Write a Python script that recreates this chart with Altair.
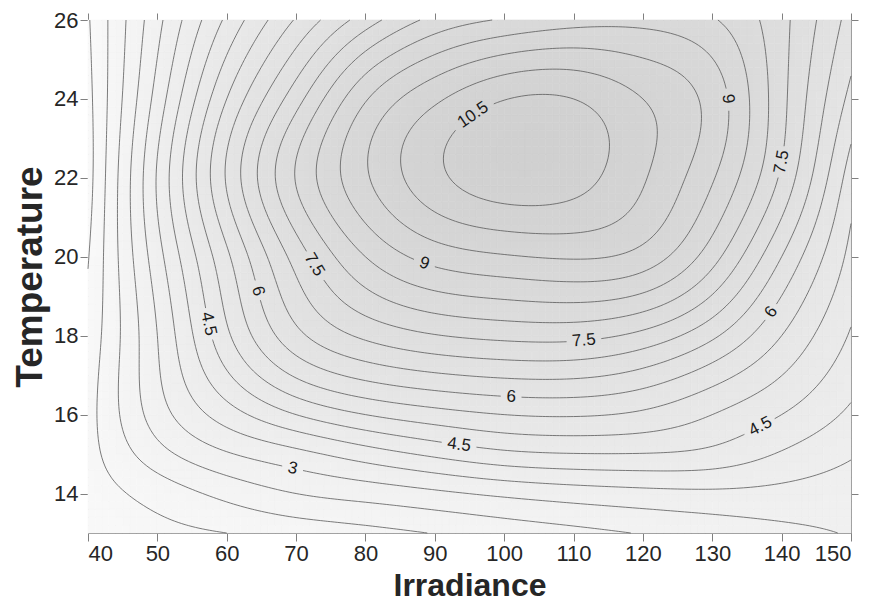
import numpy as np
import pandas as pd
import altair as alt

# ---- data -----------------------------------------------------------------
irradiance = [40, 50, 60, 70, 80, 90, 100, 110, 120, 130, 140, 150]
temperature = [13, 14, 15, 16, 18, 20, 22, 24, 26]
rate_t13 = [1.20, 1.36, 1.50, 1.67, 1.84, 2.02, 2.20, 2.36, 2.53, 2.70, 2.87, 3.03]
rate_t14 = [1.25, 1.70, 2.15, 2.50, 2.70, 2.90, 3.10, 3.25, 3.35, 3.40, 3.35, 3.25]
rate_t15 = [1.30, 2.30, 2.95, 3.35, 3.75, 4.10, 4.38, 4.48, 4.48, 4.35, 3.95, 3.55]
rate_t16 = [1.30, 2.75, 3.75, 4.50, 5.00, 5.30, 5.50, 5.55, 5.40, 5.00, 4.50, 3.90]
rate_t18 = [1.15, 3.00, 4.90, 6.35, 7.10, 7.47, 7.63, 7.65, 7.35, 6.60, 5.50, 4.45]
rate_t20 = [0.97, 3.30, 5.40, 7.20, 8.50, 9.20, 9.45, 9.55, 9.30, 8.20, 6.50, 4.85]
rate_t22 = [0.80, 3.55, 6.05, 8.03, 9.43, 10.36, 10.82, 10.70, 10.05, 9.05, 7.40, 5.25]
rate_t24 = [0.85, 3.20, 5.50, 7.30, 8.95, 9.90, 10.48, 10.50, 10.00, 9.30, 7.65, 5.85]
rate_t26 = [0.95, 2.85, 4.60, 6.05, 7.25, 8.15, 8.55, 8.80, 8.85, 8.55, 7.65, 6.30]

levels = [0.5, 1.0, 1.5, 2.0, 2.5, 3.0, 3.5, 4.0, 4.5, 5.0, 5.5, 6.0, 6.5,
          7.0, 7.5, 8.0, 8.5, 9.0, 9.5, 10.0, 10.5]

label_level = [10.5, 9, 9, 7.5, 7.5, 6, 4.5, 7.5, 6, 4.5, 3, 4.5, 6]
label_text = ["10.5", "9", "9", "7.5", "7.5", "6", "4.5", "7.5", "6", "4.5", "3", "4.5", "6"]
label_irr = [95.8, 88.0, 132.2, 140.1, 72.1, 64.2, 57.4, 111.5, 100.9, 93.3, 69.5, 136.5, 138.8]
label_temp = [23.47, 19.6, 24.0, 22.4, 19.7, 19.1, 18.3, 17.7, 16.4, 15.25, 14.65, 15.8, 18.55]

x_ticks = [40, 50, 60, 70, 80, 90, 100, 110, 120, 130, 140, 150]
y_ticks = [14, 16, 18, 20, 22, 24, 26]

W, H = 763, 513
I_MIN, I_MAX, T_MIN, T_MAX = 40.0, 150.0, 13.0, 26.0
LABEL_SIZE = 17


# ---- smooth surface through the read values (natural cubic splines) -------
def natural_spline(x, Y, xq):
    x = np.asarray(x, float)
    Y = np.asarray(Y, float)
    n = len(x)
    h = np.diff(x)
    A = np.zeros((n, n))
    R = np.zeros((n,) + Y.shape[1:])
    A[0, 0] = A[-1, -1] = 1.0
    for k in range(1, n - 1):
        A[k, k - 1] = h[k - 1]
        A[k, k] = 2 * (h[k - 1] + h[k])
        A[k, k + 1] = h[k]
        R[k] = 6 * ((Y[k + 1] - Y[k]) / h[k] - (Y[k] - Y[k - 1]) / h[k - 1])
    M = np.linalg.solve(A, R)
    xq = np.asarray(xq, float)
    k = np.clip(np.searchsorted(x, xq) - 1, 0, n - 2)
    hk = h[k][:, None]
    a = ((x[k + 1] - xq) / h[k])[:, None]
    b = ((xq - x[k]) / h[k])[:, None]
    return a * Y[k] + b * Y[k + 1] + ((a ** 3 - a) * M[k] + (b ** 3 - b) * M[k + 1]) * hk ** 2 / 6


grid = np.array([rate_t13, rate_t14, rate_t15, rate_t16, rate_t18,
                 rate_t20, rate_t22, rate_t24, rate_t26])


def surface(iq, tq):
    along_i = natural_spline(irradiance, grid.T, iq)        # (len iq, nT)
    return natural_spline(temperature, along_i.T, tq)        # (len tq, len iq)


fi = np.linspace(I_MIN, I_MAX, 221)
ft = np.linspace(T_MIN, T_MAX, 131)
Z = surface(fi, ft)


# ---- marching squares -------------------------------------------------------
def contour_paths(xs, ys, Z, L):
    above = Z >= L
    c0 = above[:-1, :-1]; c1 = above[:-1, 1:]; c2 = above[1:, 1:]; c3 = above[1:, :-1]
    mixed = ~((c0 == c1) & (c1 == c2) & (c2 == c3))
    js, iis = np.nonzero(mixed)
    adj, pts = {}, {}

    def edge_point(e):
        if e in pts:
            return
        kind, j, i = e
        if kind == 'h':
            z0, z1 = Z[j, i], Z[j, i + 1]
            t = (L - z0) / (z1 - z0)
            pts[e] = (xs[i] + t * (xs[i + 1] - xs[i]), ys[j])
        else:
            z0, z1 = Z[j, i], Z[j + 1, i]
            t = (L - z0) / (z1 - z0)
            pts[e] = (xs[i], ys[j] + t * (ys[j + 1] - ys[j]))

    def link(a, b):
        edge_point(a); edge_point(b)
        adj.setdefault(a, []).append(b)
        adj.setdefault(b, []).append(a)

    for j, i in zip(js, iis):
        s = [above[j, i], above[j, i + 1], above[j + 1, i + 1], above[j + 1, i]]
        edges = [('h', j, i), ('v', j, i + 1), ('h', j + 1, i), ('v', j, i)]
        cross = [k for k in range(4) if s[k] != s[(k + 1) % 4]]
        if len(cross) == 2:
            link(edges[cross[0]], edges[cross[1]])
        elif len(cross) == 4:
            center = (Z[j, i] + Z[j, i + 1] + Z[j + 1, i + 1] + Z[j + 1, i]) / 4 >= L
            if center == s[0]:
                link(edges[0], edges[1]); link(edges[2], edges[3])
            else:
                link(edges[3], edges[0]); link(edges[1], edges[2])

    visited, paths = set(), []

    def walk(start):
        path = [start]
        visited.add(start)
        cur = start
        while True:
            nxt = [n for n in adj[cur] if n not in visited]
            if not nxt:
                if len(path) > 2 and start in adj[cur]:
                    path.append(start)
                break
            cur = nxt[0]
            visited.add(cur)
            path.append(cur)
        return [pts[e] for e in path]

    for e, nb in adj.items():
        if len(nb) == 1 and e not in visited:
            paths.append(walk(e))
    for e in adj:
        if e not in visited:
            paths.append(walk(e))
    return paths


def to_px(i, t):
    return (i - I_MIN) / (I_MAX - I_MIN) * W, (T_MAX - t) / (T_MAX - T_MIN) * H


line_rows, text_rows = [], []
pid = 0
for L in levels:
    paths = [np.array(p) for p in contour_paths(fi, ft, Z, L)]
    if not paths:
        continue
    pix = [np.column_stack(to_px(p[:, 0], p[:, 1])) for p in paths]
    gaps = []
    for lv, txt, ai, at in zip(label_level, label_text, label_irr, label_temp):
        if abs(lv - L) > 1e-9:
            continue
        ax, ay = to_px(ai, at)
        best = None
        for pi, pp in enumerate(pix):
            d = np.hypot(pp[:, 0] - ax, pp[:, 1] - ay)
            k = int(np.argmin(d))
            if best is None or d[k] < best[0]:
                best = (d[k], pi, k)
        _, pi, k = best
        pp = pix[pi]
        k0, k1 = max(0, k - 3), min(len(pp) - 1, k + 3)
        dx, dy = pp[k1, 0] - pp[k0, 0], pp[k1, 1] - pp[k0, 1]
        ang = np.degrees(np.arctan2(dy, dx))
        if ang > 90:
            ang -= 180
        if ang <= -90:
            ang += 180
        text_rows.append({"I": paths[pi][k, 0], "T": paths[pi][k, 1],
                          "txt": txt, "angle": ang % 360})
        half = (sum(0.28 if c == '.' else 0.556 for c in txt) * LABEL_SIZE) / 2 + 3.5
        gaps.append((pp[k, 0], pp[k, 1], half))
    for p, pp in zip(paths, pix):
        keep = np.ones(len(p), bool)
        for gx, gy, r in gaps:
            keep &= np.hypot(pp[:, 0] - gx, pp[:, 1] - gy) > r
        seg = []
        for idx in range(len(p)):
            if keep[idx]:
                seg.append(idx)
            else:
                if len(seg) > 1:
                    for o, q in enumerate(seg):
                        line_rows.append({"I": p[q, 0], "T": p[q, 1], "pid": pid, "ord": o})
                    pid += 1
                seg = []
        if len(seg) > 1:
            for o, q in enumerate(seg):
                line_rows.append({"I": p[q, 0], "T": p[q, 1], "pid": pid, "ord": o})
            pid += 1

lines_df = pd.DataFrame(line_rows)
text_df = pd.DataFrame(text_rows)

# shading cells
ci = np.arange(40.5, 150.0, 1.0)
ct = np.arange(13.1, 26.0, 0.2)
Zc = surface(ci, ct)
shade_rows = []
for a, t in enumerate(ct):
    for b, i in enumerate(ci):
        shade_rows.append({"i0": i - 0.5, "i1": i + 0.5, "t0": t - 0.1, "t1": t + 0.1,
                           "z": float(Zc[a, b])})
shade_df = pd.DataFrame(shade_rows)

# ---- chart ------------------------------------------------------------------
LABEL_FONT = "Liberation Sans Narrow, Arial Narrow, Liberation Sans, sans-serif"
xscale = alt.Scale(domain=[I_MIN, I_MAX], nice=False, zero=False)
yscale = alt.Scale(domain=[T_MIN, T_MAX], nice=False, zero=False)
common_axis = dict(grid=False, domain=False, tickSize=8, tickColor="#808080",
                   tickWidth=1, labelFont=LABEL_FONT, labelFontSize=22,
                   labelColor="#262626", labelPadding=2, titleFont=LABEL_FONT,
                   titleFontWeight="bold", titleColor="#262626")

shade_scale = alt.Scale(domain=[0, 11], range=["#fdfdfd", "#d0d0d0"])
shade = alt.Chart(shade_df).mark_rect(strokeWidth=0.6).encode(
    x=alt.X("i0:Q", scale=xscale,
            axis=alt.Axis(orient="bottom", values=x_ticks, title="Irradiance",
                          titleFontSize=32, titlePadding=6, **common_axis)),
    x2="i1:Q",
    y=alt.Y("t0:Q", scale=yscale,
            axis=alt.Axis(orient="left", values=y_ticks, title="Temperature",
                          titleFontSize=37, titlePadding=4, **common_axis)),
    y2="t1:Q",
    color=alt.Color("z:Q", scale=shade_scale, legend=None),
    stroke=alt.Stroke("z:Q", scale=shade_scale, legend=None),
)

lines = alt.Chart(lines_df).mark_line(color="#5a5a5a", strokeWidth=0.8).encode(
    x=alt.X("I:Q", scale=xscale, axis=None),
    y=alt.Y("T:Q", scale=yscale, axis=None),
    detail="pid:N",
    order="ord:Q",
)

labels = alt.Chart(text_df).mark_text(font="Liberation Sans, Arial, sans-serif",
                                       fontSize=LABEL_SIZE, color="#1a1a1a",
                                       align="center", baseline="middle").encode(
    x=alt.X("I:Q", scale=xscale, axis=None),
    y=alt.Y("T:Q", scale=yscale, axis=None),
    text="txt:N",
    angle=alt.Angle("angle:Q", scale=None),
)

frame = alt.Chart(pd.DataFrame({"i": [40.0], "t": [13.0]})).mark_point(opacity=0).encode(
    x=alt.X("i:Q", scale=xscale,
            axis=alt.Axis(orient="top", values=x_ticks, labels=False, title=None,
                          grid=False, domain=False, tickSize=7, tickColor="#808080")),
    y=alt.Y("t:Q", scale=yscale,
            axis=alt.Axis(orient="right", values=y_ticks, labels=False, title=None,
                          grid=False, domain=False, tickSize=7, tickColor="#808080")),
)

chart = alt.layer(shade, lines, labels, frame).resolve_scale(
    x="shared", y="shared", color="independent", stroke="independent"
).resolve_axis(x="independent", y="independent").properties(
    width=W, height=H, padding={"left": 3, "top": 1, "right": 5, "bottom": 0}
).configure_view(stroke="#808080", strokeWidth=1)

chart.save("out.html", embed_options={"renderer": "svg", "actions": False})
